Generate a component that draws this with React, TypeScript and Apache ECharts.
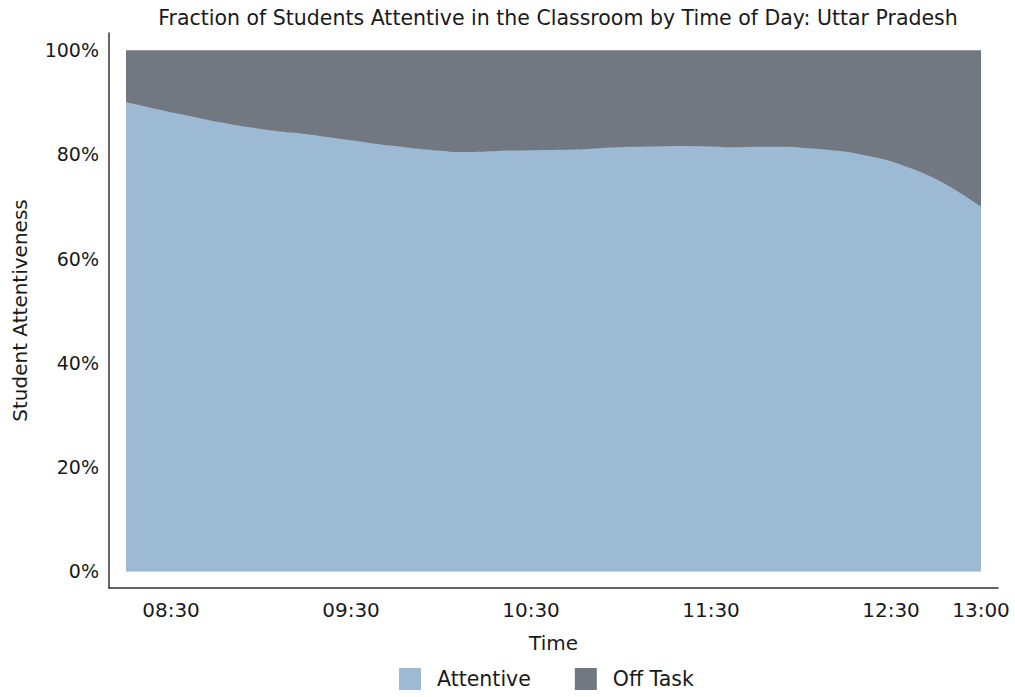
import React, { useEffect, useRef } from "react";
import * as echarts from "echarts";

const times = [
  "08:15", "08:20", "08:25", "08:30", "08:35", "08:40", "08:45", "08:50", "08:55", "09:00",
  "09:05", "09:10", "09:15", "09:20", "09:25", "09:30", "09:35", "09:40", "09:45", "09:50",
  "09:55", "10:00", "10:05", "10:10", "10:15", "10:20", "10:25", "10:30", "10:35", "10:40",
  "10:45", "10:50", "10:55", "11:00", "11:05", "11:10", "11:15", "11:20", "11:25", "11:30",
  "11:35", "11:40", "11:45", "11:50", "11:55", "12:00", "12:05", "12:10", "12:15", "12:20",
  "12:25", "12:30", "12:35", "12:40", "12:45", "12:50", "12:55", "13:00",
];

const attentive = [
  90.0, 89.4, 88.7, 88.1, 87.5, 86.9, 86.3, 85.8, 85.3, 84.9,
  84.5, 84.2, 83.9, 83.5, 83.1, 82.7, 82.3, 81.9, 81.6, 81.25,
  80.95, 80.7, 80.45, 80.45, 80.55, 80.7, 80.75, 80.8, 80.85, 80.9,
  80.95, 81.1, 81.3, 81.4, 81.45, 81.5, 81.55, 81.6, 81.55, 81.5,
  81.4, 81.4, 81.45, 81.45, 81.45, 81.3, 81.1, 80.85, 80.5, 80.0,
  79.4, 78.7, 77.7, 76.6, 75.3, 73.7, 71.9, 70.0,
];

// Off Task is the complement of Attentive (the two shares fill 100%)
const offTask = attentive.map((v) => 100 - v);

const xTickLabels = ["08:30", "09:30", "10:30", "11:30", "12:30", "13:00"];
const yTickValues = [0, 20, 40, 60, 80, 100];

const toMin = (t: string) => {
  const [h, m] = t.split(":").map(Number);
  return h * 60 + m;
};
const fmt = (v: number) => {
  const h = Math.floor(v / 60);
  const m = Math.round(v - h * 60);
  return `${String(h).padStart(2, "0")}:${String(m).padStart(2, "0")}`;
};

const FONT = "DejaVu Sans";
const TEXT = "#1a1a1a";
const C_ATT = "#9dbad5";
const C_OFF = "#717882";

export default function App() {
  const ref = useRef<HTMLDivElement>(null);
  useEffect(() => {
    if (!ref.current) return;
    const chart = echarts.init(ref.current, null, { renderer: "svg" });
    const xStart = toMin(times[0]);
    const xEnd = toMin(times[times.length - 1]);
    chart.setOption({
      animation: false,
      backgroundColor: "#ffffff",
      textStyle: { fontFamily: FONT, color: TEXT },
      title: {
        text: "Fraction of Students Attentive in the Classroom by Time of Day: Uttar Pradesh",
        left: 553,
        textAlign: "center",
        top: 2,
        textStyle: { fontFamily: FONT, fontSize: 20.5, fontWeight: "normal", color: TEXT },
      },
      legend: {
        left: 394,
        top: 663,
        itemWidth: 22,
        itemHeight: 22,
        itemGap: 44,
        icon: "rect",
        textStyle: { fontFamily: FONT, fontSize: 20.5, color: TEXT, padding: [0, 0, 0, 11] },
        data: ["Attentive", "Off Task"],
      },
      grid: {
        left: 109,
        right: 17,
        top: 33,
        bottom: 109,
        containLabel: false,
        outerBoundsMode: "none",
      },
      xAxis: {
        type: "value",
        min: xStart - 17 / 3,
        max: xEnd + 17 / 3,
        name: "Time",
        nameLocation: "middle",
        nameGap: 45,
        nameMoveOverlap: false,
        nameTextStyle: { fontFamily: FONT, fontSize: 20, color: TEXT },
        axisLine: { show: true, onZero: false, lineStyle: { color: "#333333", width: 1.5 } },
        axisTick: { show: false },
        splitLine: { show: false },
        axisLabel: {
          customValues: xTickLabels.map(toMin),
          formatter: (v: number) => fmt(v),
          fontFamily: FONT,
          fontSize: 20,
          color: TEXT,
          margin: 12,
        },
      },
      yAxis: {
        type: "value",
        min: -3.2,
        max: 103.3,
        name: "Student Attentiveness",
        nameLocation: "middle",
        nameGap: 79,
        nameMoveOverlap: false,
        nameTextStyle: { fontFamily: FONT, fontSize: 20, color: TEXT },
        axisLine: { show: true, onZero: false, lineStyle: { color: "#333333", width: 1.5 } },
        axisTick: { show: false },
        splitLine: { show: false },
        axisLabel: {
          customValues: yTickValues,
          formatter: (v: number) => `${Math.round(v)}%`,
          fontFamily: FONT,
          fontSize: 19,
          color: TEXT,
          margin: 10,
        },
      },
      series: [
        {
          // top band: cumulative Attentive + Off Task, drawn underneath
          name: "Off Task",
          type: "line",
          symbol: "none",
          smooth: 0.3,
          z: 1,
          lineStyle: { width: 0 },
          areaStyle: { color: C_OFF, opacity: 1, origin: "auto" },
          itemStyle: { color: C_OFF },
          data: times.map((t, i) => [toMin(t), attentive[i] + offTask[i]]),
        },
        {
          name: "Attentive",
          type: "line",
          symbol: "none",
          smooth: 0.3,
          z: 2,
          lineStyle: { width: 0 },
          areaStyle: { color: C_ATT, opacity: 1, origin: "auto" },
          itemStyle: { color: C_ATT },
          data: times.map((t, i) => [toMin(t), attentive[i]]),
        },
      ],
    });
    return () => chart.dispose();
  }, []);
  return (
    <div
      ref={ref}
      style={{ position: "fixed", left: 0, top: 0, width: 1015, height: 697 }}
    />
  );
}
